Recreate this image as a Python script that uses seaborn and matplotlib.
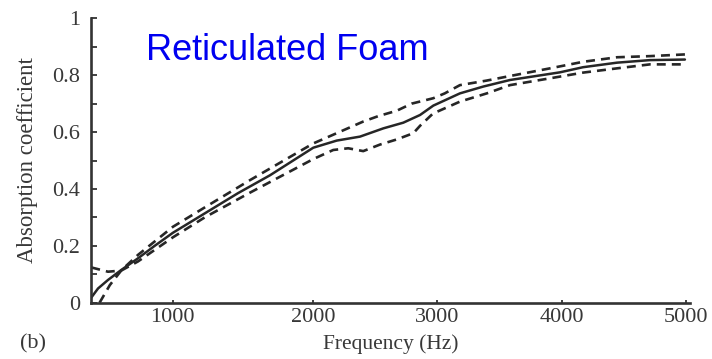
import numpy as np
import pandas as pd
import matplotlib
matplotlib.use("Agg")
import matplotlib.pyplot as plt
import seaborn as sns

# ---- data ----
mean_hz = [421, 469, 540, 634, 753, 872, 1002, 1228, 1464, 1692, 2000, 2189, 2377,
           2565, 2726, 2861, 2968, 3182, 3370, 3584, 3986, 4172, 4446, 4712, 4994]
mean_val = [0.018, 0.05, 0.08, 0.115, 0.156, 0.20, 0.246, 0.314, 0.385, 0.448, 0.545,
            0.57, 0.584, 0.613, 0.633, 0.66, 0.693, 0.736, 0.76, 0.783, 0.81, 0.828,
            0.844, 0.853, 0.855]

upper_hz = [480, 553, 637, 753, 1002, 1228, 1550, 2000, 2215, 2403, 2524, 2673, 2794,
            2968, 3060, 3182, 3397, 3584, 3906, 4172, 4446, 4712, 4994]
upper_val = [0.0, 0.062, 0.115, 0.168, 0.267, 0.335, 0.431, 0.56, 0.601, 0.637, 0.656,
             0.675, 0.70, 0.719, 0.736, 0.765, 0.781, 0.797, 0.824, 0.847, 0.863,
             0.867, 0.873]

lower_hz = [421, 540, 634, 753, 1002, 1228, 1550, 2000, 2161, 2282, 2403, 2538, 2673,
            2807, 2861, 2965, 3182, 3398, 3584, 3906, 4172, 4446, 4712, 4994]
lower_val = [0.124, 0.109, 0.113, 0.145, 0.23, 0.30, 0.387, 0.505, 0.537, 0.543, 0.533,
             0.556, 0.574, 0.596, 0.622, 0.665, 0.707, 0.736, 0.765, 0.789, 0.809,
             0.824, 0.838, 0.838]

x_ticks = [1000, 2000, 3000, 4000, 5000]
x_tick_labels = ["1000", "2000", "3000", "4000", "5000"]
y_ticks = [0, 0.2, 0.4, 0.6, 0.8, 1.0]
y_tick_labels = ["0", "0.2", "0.4", "0.6", "0.8", "1"]
y_minor = [0.1, 0.3, 0.5, 0.7, 0.9]

df = pd.concat([
    pd.DataFrame({"Frequency": mean_hz, "Absorption": mean_val, "series": "mean"}),
    pd.DataFrame({"Frequency": upper_hz, "Absorption": upper_val, "series": "upper"}),
    pd.DataFrame({"Frequency": lower_hz, "Absorption": lower_val, "series": "lower"}),
], ignore_index=True)

# ---- style ----
sns.set_style("ticks")
plt.rcParams["font.family"] = ["Liberation Serif", "DejaVu Serif"]
text_col = "#383838"
line_col = "#262626"

fig = plt.figure(figsize=(7.12, 3.59), dpi=100)
ax = fig.add_axes([91 / 712, 56.3 / 359, 599 / 712, 284.4 / 359])

# the scanned axis is slightly non-uniform; piecewise-linear frequency scale
_knots_hz = np.array([-10000, 1000, 2000, 3000, 4000, 5000, 20000], dtype=float)
_knots_pos = np.array([-1373.9, 172.7, 313.3, 437.3, 561.7, 685.7, 2545.7])


def _fwd(v):
    return np.interp(v, _knots_hz, _knots_pos)


def _inv(p):
    return np.interp(p, _knots_pos, _knots_hz)


ax.set_xscale("function", functions=(_fwd, _inv))

sns.lineplot(data=df, x="Frequency", y="Absorption", hue="series", style="series",
             palette={"mean": line_col, "upper": line_col, "lower": line_col},
             dashes={"mean": "", "upper": (3.4, 2.3), "lower": (3.4, 2.3)},
             size="series", sizes={"mean": 1.8, "upper": 1.9, "lower": 1.9},
             estimator=None, sort=False, legend=False, ax=ax)

ax.set_xlim(419, 5035)
ax.set_ylim(0, 1.0)
ax.set_xticks(x_ticks)
ax.set_xticklabels(x_tick_labels)
ax.set_yticks(y_ticks)
ax.set_yticklabels(y_tick_labels)
ax.set_yticks(y_minor, minor=True)
ax.xaxis.set_minor_locator(matplotlib.ticker.NullLocator())

for side in ["top", "right"]:
    ax.spines[side].set_visible(False)
for side in ["left", "bottom"]:
    ax.spines[side].set_linewidth(1.9)
    ax.spines[side].set_color("#333333")

ax.tick_params(axis="y", which="both", direction="in", length=4.5, width=1.3,
               color="#333333", labelsize=16, labelcolor=text_col, pad=8)
ax.tick_params(axis="x", which="both", direction="in", length=2.5, width=1.3,
               color="#333333", labelsize=16, labelcolor=text_col, pad=4)

ax.set_xlabel("Frequency (Hz)", fontsize=15.5, color=text_col, labelpad=5)
ax.set_ylabel("Absorption coefficient", fontsize=16.5, color=text_col, labelpad=10)

fig.text(20 / 712, 1 - 344 / 359, "(b)", fontsize=16, color=text_col,
         ha="left", va="center")
fig.text(146 / 712, 1 - 60 / 359, "Reticulated Foam", fontsize=26,
         color="#0000F0", family=["Liberation Sans", "DejaVu Sans"],
         ha="left", va="baseline")

fig.savefig("out.png", dpi=100)
